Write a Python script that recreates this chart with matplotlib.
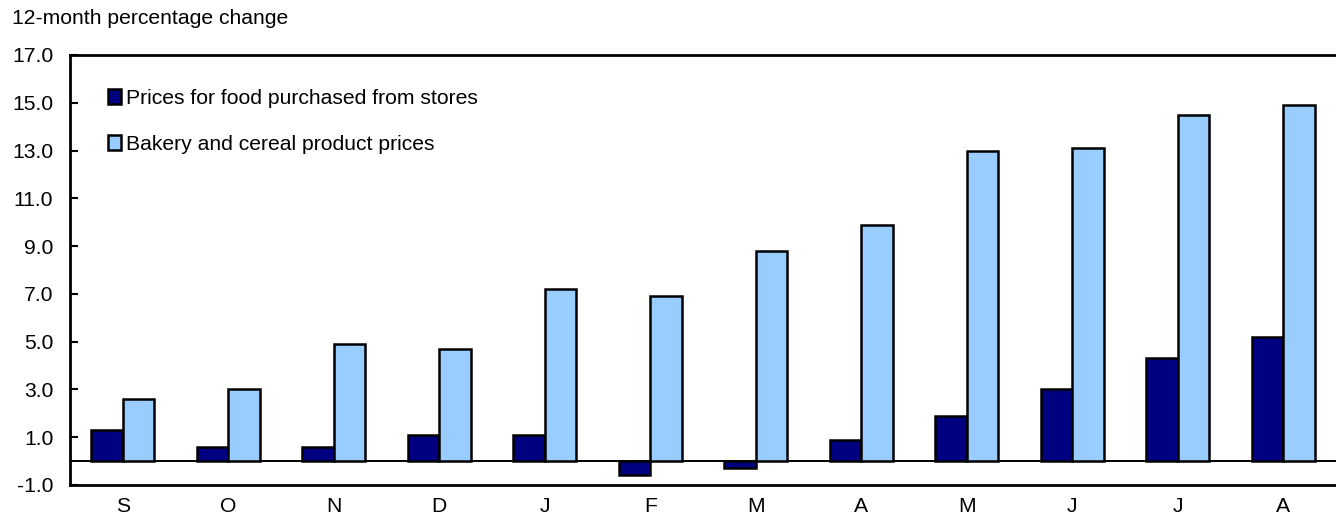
import numpy as np
import matplotlib.pyplot as plt

plt.rcParams['font.family'] = ['Liberation Sans', 'DejaVu Sans']

months = ['S', 'O', 'N', 'D', 'J', 'F', 'M', 'A', 'M', 'J', 'J', 'A']
food_store = [1.3, 0.6, 0.6, 1.1, 1.1, -0.6, -0.3, 0.9, 1.9, 3.0, 4.3, 5.2]
bakery = [2.6, 3.0, 4.9, 4.7, 7.2, 6.9, 8.8, 9.9, 13.0, 13.1, 14.5, 14.9]
yticks = [-1.0, 1.0, 3.0, 5.0, 7.0, 9.0, 11.0, 13.0, 15.0, 17.0]

fs = 15.2

fig = plt.figure(figsize=(13.36, 5.2), dpi=100)
ax = fig.add_axes([70 / 1336, 35 / 520, 1266 / 1336, 430 / 520])

x = np.arange(len(months))
w = 0.3
ax.bar(x - w / 2, food_store, w, color='#000080', edgecolor='black', linewidth=1.8,
       label='Prices for food purchased from stores', zorder=3)
ax.bar(x + w / 2, bakery, w, color='#99ccff', edgecolor='black', linewidth=1.8,
       label='Bakery and cereal product prices', zorder=3)
ax.axhline(0, color='black', linewidth=1.4, zorder=2)

ax.set_xlim(-0.5, len(months) - 0.5)
ax.set_ylim(-1, 17)
ax.set_yticks(yticks)
ax.set_yticklabels(['%.1f' % v for v in yticks], fontsize=fs)
ax.set_xticks(x)
ax.set_xticklabels(months, fontsize=fs)
ax.tick_params(axis='y', direction='in', length=6, width=1.5, pad=12)
ax.tick_params(axis='x', length=0, pad=9)

for s in ['left', 'top', 'bottom']:
    ax.spines[s].set_linewidth(2)
ax.spines['right'].set_visible(False)

ax.legend(loc='upper left', bbox_to_anchor=(0.0235, 0.94), frameon=False, fontsize=fs,
          handlelength=0.6, handleheight=0.7, handletextpad=0.25, labelspacing=1.25,
          borderaxespad=0)

fig.text(12 / 1336, 1 - 19 / 520, '12-month percentage change', fontsize=fs, va='center')

fig.savefig('out.png', dpi=100)
